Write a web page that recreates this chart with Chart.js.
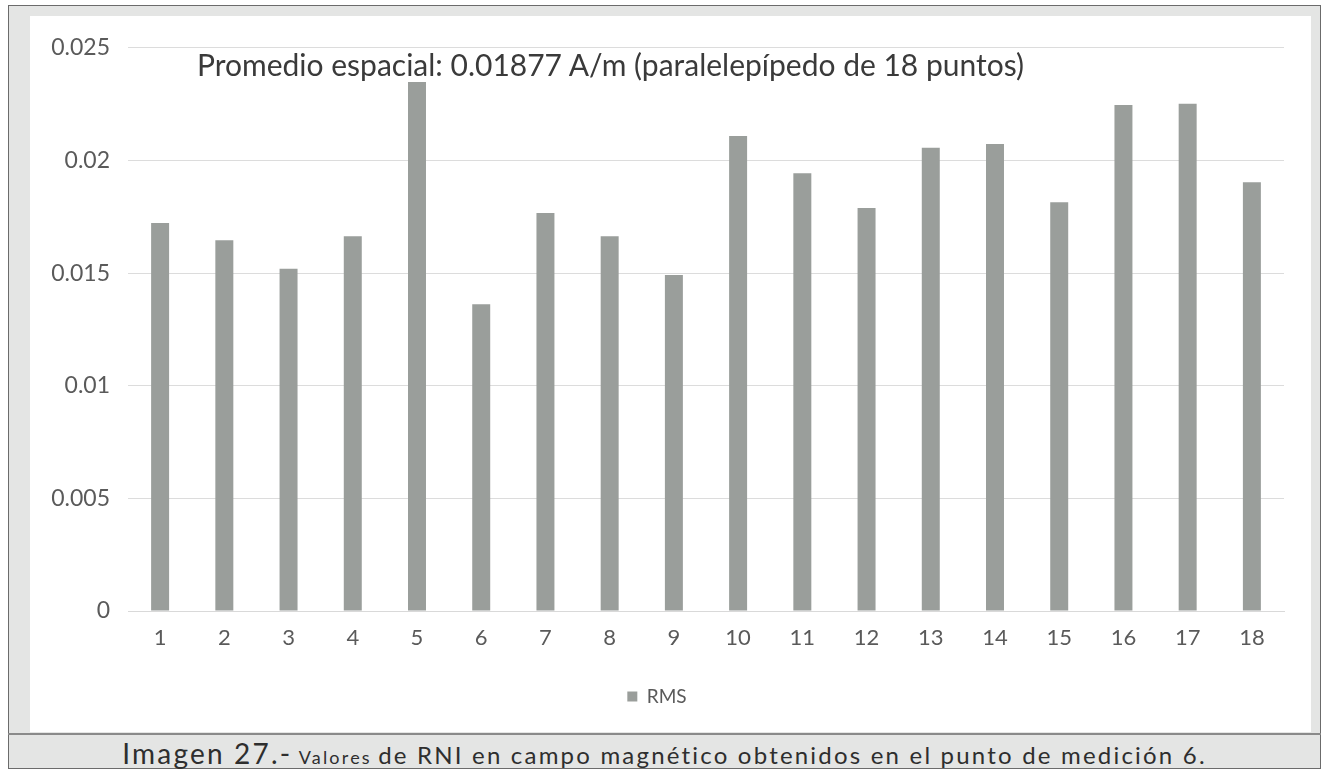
<!DOCTYPE html>
<html>
<head>
<meta charset="utf-8">
<script src="https://cdn.jsdelivr.net/npm/chart.js@4"></script>
<style>
  html, body { margin:0; padding:0; background:#ffffff; }
  body { width:1330px; height:770px; position:relative; overflow:hidden; font-family: "Lato", "Open Sans", sans-serif; }
  #frame { position:absolute; left:8px; top:5px; width:1313px; height:764px; background:#e4e5e4; border:1.5px solid #6b6b6b; box-sizing:border-box; }
  #panel { position:absolute; left:30px; top:16px; width:1281px; height:716px; background:#ffffff; }
  #sep { position:absolute; left:8px; top:733px; width:1313px; height:2px; background:#8a8a8a; }
  #chartTitle { position:absolute; left:197px; top:46px; text-align:left; font-size:30px; color:#3a3a3a; pointer-events:none; white-space:nowrap; letter-spacing:0px; }
  #caption { position:absolute; left:8px; top:736px; width:1313px; text-align:center; color:#2e2e2e; white-space:nowrap; line-height:34px; letter-spacing:2.2px; }
  #caption .big { font-size:28px; }
  #caption .small { font-size:18px; }
  #caption .mid { font-size:24px; }
</style>
</head>
<body>
<div id="frame"></div>
<div id="panel"><canvas id="c" width="1281" height="716"></canvas></div>
<div id="sep"></div>
<div id="chartTitle">Promedio espacial: 0.01877 A/m (paralelepípedo de 18 puntos)</div>
<div id="caption"><span class="big">Imagen 27.-</span> <span class="small">Valores</span> <span class="mid">de RNI en campo magnético obtenidos en el punto de medición 6.</span></div>
<script>
const categories = ["1","2","3","4","5","6","7","8","9","10","11","12","13","14","15","16","17","18"];
const seriesName = "RMS";
const rmsValues = [0.01722, 0.01646, 0.01519, 0.01664, 0.02348, 0.01362, 0.01767, 0.01664, 0.01492,
                   0.02108, 0.01943, 0.01789, 0.02056, 0.02073, 0.01814, 0.02246, 0.02252, 0.01903];
const yTicks = [0, 0.005, 0.01, 0.015, 0.02, 0.025];

const barColor = "#9a9e9b";
const tickColor = "#5a5a5a";

new Chart(document.getElementById("c"), {
  type: "bar",
  data: {
    labels: categories,
    datasets: [{
      label: seriesName,
      data: rmsValues,
      backgroundColor: barColor,
      borderWidth: 0,
      barPercentage: 0.28,
      categoryPercentage: 1.0
    }]
  },
  options: {
    responsive: false,
    animation: false,
    layout: { padding: { top: 29, right: 27, bottom: 16, left: 0 } },
    plugins: {
      title: { display: false },
      tooltip: { enabled: false },
      legend: {
        display: true,
        position: "bottom",
        labels: {
          boxWidth: 10, boxHeight: 10, padding: 10,
          color: tickColor,
          font: { family: "Lato, 'Open Sans', sans-serif", size: 19 }
        }
      }
    },
    scales: {
      x: {
        grid: { display: false, drawTicks: false },
        border: { display: true, color: "#d9d9d9", width: 1 },
        ticks: { color: tickColor, padding: 14, font: { family: "Lato, 'Open Sans', sans-serif", size: 22 } },
        afterFit: (s) => { s.height = 66; }
      },
      y: {
        min: 0, max: 0.025,
        afterBuildTicks: (s) => { s.ticks = yTicks.map(v => ({ value: v })); },
        grid: { color: "#dcdcdc", lineWidth: 1, drawTicks: false },
        border: { display: false },
        ticks: {
          color: tickColor, padding: 18,
          font: { family: "Lato, 'Open Sans', sans-serif", size: 23 },
          callback: (v) => String(+v.toFixed(3))
        },
        afterFit: (s) => { s.width = 98; }
      }
    }
  }
});
</script>
</body>
</html>
